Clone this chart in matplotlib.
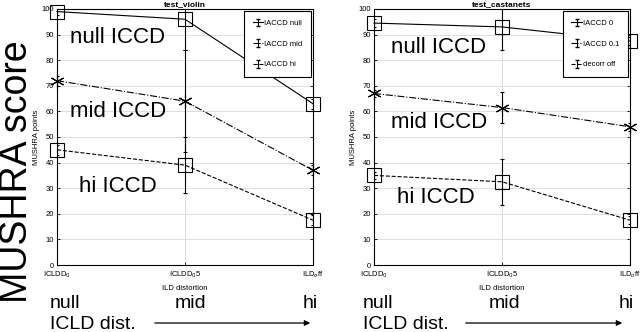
import matplotlib
matplotlib.use("Agg")
import numpy as np
import matplotlib.pyplot as plt

plt.rcParams['font.family'] = ['Liberation Sans', 'DejaVu Sans']

positions = [0, 1, 2]
tick_labels = ['ICLDD$_0$', 'ICLDD$_0$5', 'ILD$_o$ff']

violin_null = [99, 96, 63]
violin_null_err = [1.5, 12, 2]
violin_mid = [72, 64, 37]
violin_mid_err = [2, 20, 2]
violin_hi = [45, 39, 17.5]
violin_hi_err = [2, 11, 2]

cast_null = [94.5, 93, 87.5]
cast_null_err = [1.5, 9, 1.5]
cast_mid = [67, 61.5, 54]
cast_mid_err = [1.5, 6, 1.5]
cast_hi = [35, 32.5, 17.5]
cast_hi_err = [1.5, 9, 1.5]

violin_labels = ['IACCD null', 'IACCD mid', 'IACCD hi']
cast_labels = ['IACCD 0', 'IACCD 0.1', 'decorr off']

styles = [('-', 's'), ('-.', (6, 2, 0)), ('--', 's')]


def draw_panel(ax, title, series, errs, labels, texts):
    for (ls, mk), y, e, lab in zip(styles, series, errs, labels):
        cont = ax.errorbar(positions, y, yerr=e, color='k', ls=ls, lw=0.8,
                           marker=mk, markersize=10, mfc='none', mew=0.8,
                           capsize=1.5, elinewidth=0.8)
        cont.lines[0].set_clip_on(False)
        # legend proxy without marker
        ax.errorbar([np.nan], [np.nan], yerr=[1], color='k', ls=ls, lw=0.8,
                    capsize=1.5, elinewidth=0.8, label=lab)
    ax.set_xlim(0, 2)
    ax.set_ylim(0, 100)
    ax.set_yticks(range(0, 101, 10))
    ax.set_xticks(positions)
    ax.set_xticklabels(tick_labels)
    ax.tick_params(labelsize=5.5, direction='in', length=2.5, width=0.6,
                   right=True, top=True, pad=2)
    ax.tick_params(axis='x', pad=3)
    ax.grid(True, color='#dddddd', lw=0.7)
    ax.set_axisbelow(True)
    for s in ax.spines.values():
        s.set_linewidth(0.8)
    ax.set_title(title, fontsize=6, fontweight='bold', pad=2)
    ax.set_xlabel('ILD distortion', fontsize=5.5, labelpad=4)
    ax.set_ylabel('MUSHRA points', fontsize=5.5, labelpad=1)
    leg = ax.legend(loc='upper right', fontsize=5.5, labelspacing=1.75,
                    handlelength=1.4, handletextpad=0.1, fancybox=False,
                    borderpad=1.1, borderaxespad=0.3, framealpha=1,
                    edgecolor='k')
    leg.get_frame().set_linewidth(0.8)
    for (tx, ty, s) in texts:
        ax.text(tx, ty, s, fontsize=16, va='center', ha='left')


fig = plt.figure(figsize=(6.4, 3.32), dpi=100)
ax1 = fig.add_axes([57 / 640, 67 / 332, 256 / 640, 256 / 332])
ax2 = fig.add_axes([374 / 640, 67 / 332, 256 / 640, 256 / 332])

draw_panel(ax1, 'test_violin', [violin_null, violin_mid, violin_hi],
           [violin_null_err, violin_mid_err, violin_hi_err], violin_labels,
           [(0.1, 89, 'null ICCD'), (0.1, 60, 'mid ICCD'), (0.17, 30.5, 'hi ICCD')])
draw_panel(ax2, 'test_castanets', [cast_null, cast_mid, cast_hi],
           [cast_null_err, cast_mid_err, cast_hi_err], cast_labels,
           [(0.13, 85, 'null ICCD'), (0.13, 55.5, 'mid ICCD'), (0.18, 26.5, 'hi ICCD')])

fig.text(17 / 640, 1 - 172 / 332, 'MUSHRA score', rotation=90, fontsize=27,
         ha='center', va='center')

for x0, xm, xh, xa0, xa1 in [(50, 191, 318, 152, 313), (363, 504, 634, 463, 625)]:
    fig.text(x0 / 640, 1 - 308 / 332, 'null', fontsize=14, ha='left', va='baseline')
    fig.text(xm / 640, 1 - 308 / 332, 'mid', fontsize=14, ha='center', va='baseline')
    fig.text(xh / 640, 1 - 308 / 332, 'hi', fontsize=14, ha='right', va='baseline')
    fig.text(x0 / 640, 1 - 329 / 332, 'ICLD dist.', fontsize=14, ha='left', va='baseline')
    fig.add_artist(matplotlib.patches.FancyArrowPatch(
        (xa0 / 640, 1 - 323 / 332), (xa1 / 640, 1 - 323 / 332),
        transform=fig.transFigure, arrowstyle='-|>', mutation_scale=8,
        color='k', lw=0.9))

fig.savefig('out.png', dpi=100)
